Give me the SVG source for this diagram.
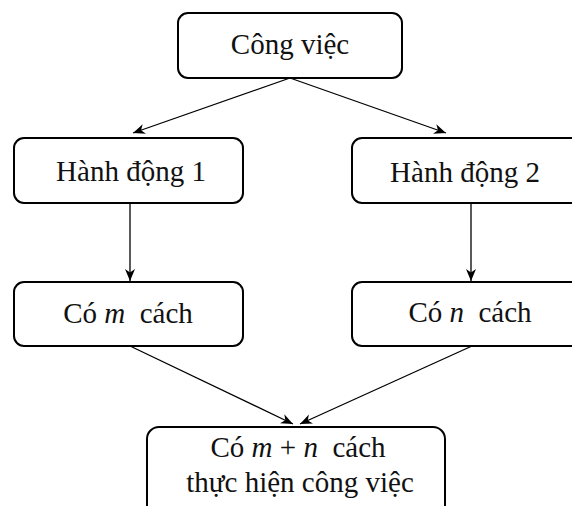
<svg xmlns="http://www.w3.org/2000/svg" width="572" height="506" viewBox="0 0 572 506">
<style>
.box{fill:#fff;stroke:#000;stroke-width:2}
.t{font-family:"Liberation Serif","Times New Roman",serif;font-size:29px;fill:#111;text-anchor:middle}
.i{font-style:italic}
.c{stroke:#000;stroke-width:1.3;fill:none;marker-end:url(#ah)}
</style>
<defs>
<marker id="ah" markerUnits="userSpaceOnUse" markerWidth="14" markerHeight="12" refX="12" refY="5" orient="auto">
<path d="M0,0 L12,5 L0,10 L3.5,5 z" fill="#000"/>
</marker>
</defs>
<rect width="572" height="506" fill="#fff"/>
<g id="connectors">
<line class="c" x1="290" y1="78" x2="133" y2="133"/>
<line class="c" x1="290" y1="78" x2="446" y2="133"/>
<line class="c" x1="130" y1="203" x2="130" y2="281"/>
<line class="c" x1="471" y1="203" x2="471" y2="281"/>
<line class="c" x1="130" y1="346" x2="293" y2="424"/>
<line class="c" x1="472" y1="346" x2="300" y2="424"/>
</g>
<g id="cong-viec">
<rect class="box" x="178" y="13" width="224" height="65" rx="10"/>
<text class="t" x="290" y="54">Công việc</text>
</g>
<g id="hanh-dong-1">
<rect class="box" x="14" y="138" width="229" height="65" rx="10"/>
<text class="t" x="131" y="181">Hành động 1</text>
</g>
<g id="hanh-dong-2">
<rect class="box" x="352" y="138" width="232" height="65" rx="10"/>
<text class="t" x="465" y="182">Hành động 2</text>
</g>
<g id="co-m-cach">
<rect class="box" x="14" y="282" width="229" height="64" rx="10"/>
<text class="t" x="128" y="323" xml:space="preserve">Có <tspan class="i">m</tspan>  cách</text>
</g>
<g id="co-n-cach">
<rect class="box" x="352" y="282" width="232" height="64" rx="10"/>
<text class="t" x="470" y="322" xml:space="preserve">Có <tspan class="i">n</tspan>  cách</text>
</g>
<g id="ket-qua">
<rect class="box" x="147" y="427" width="298" height="100" rx="12"/>
<text class="t" x="298" y="457" xml:space="preserve">Có <tspan class="i">m</tspan> + <tspan class="i">n</tspan>  cách</text>
<text class="t" x="300" y="492">thực hiện công việc</text>
</g>
</svg>
